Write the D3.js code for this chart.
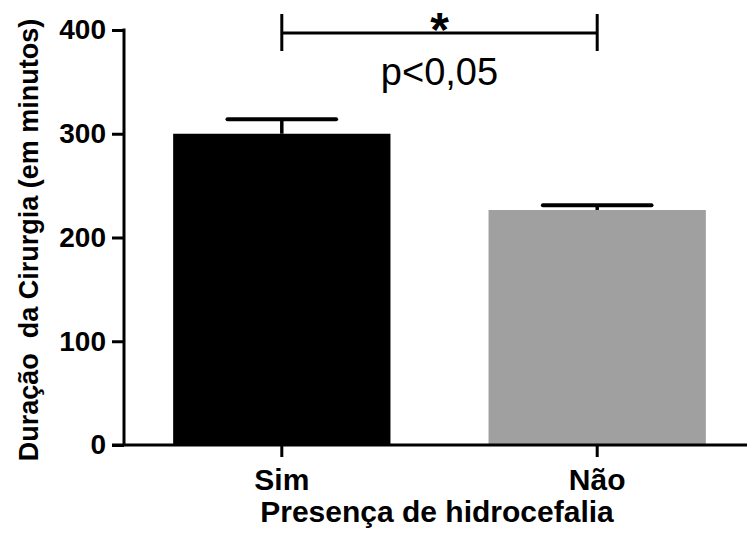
<!DOCTYPE html>
<html>
<head>
<meta charset="utf-8">
<script src="https://cdn.jsdelivr.net/npm/d3@7"></script>
<style>
  body { margin: 0; background: #fff; }
  svg text { font-family: "Liberation Sans", Arial, sans-serif; }
</style>
</head>
<body>
<div id="chart"></div>
<script>
// data
var categories = ["Sim", "Não"];
var means = [300, 226.5];
var errors = [14, 4.5];
var barColors = ["#000000", "#a0a0a0"];
var yTicks = [0, 100, 200, 300, 400];
var sigLabel = "p<0,05";

var w = 747, h = 533;

var svg = d3.select("#chart").append("svg")
   .attr("width", w)
   .attr("height", h);

var y = d3.scaleLinear().domain([0, 400]).range([445, 30]);
var x = d3.scaleBand().domain(categories)
   .range([123, 756])
   .paddingInner(0.311)
   .paddingOuter(0.159);

// bars
svg.selectAll("rect.bar")
   .data(categories)
   .enter().append("rect")
   .attr("class", "bar")
   .attr("x", function(d){ return x(d); })
   .attr("width", x.bandwidth())
   .attr("y", function(d, i){ return y(means[i]); })
   .attr("height", function(d, i){ return y(0) - y(means[i]); })
   .attr("fill", function(d, i){ return barColors[i]; });

// error bars (upper only)
categories.forEach(function(c, i){
    var cx = x(c) + x.bandwidth()/2;
    var capW = x.bandwidth()/2;
    svg.append("line")
      .attr("x1", cx).attr("x2", cx)
      .attr("y1", y(means[i])).attr("y2", y(means[i] + errors[i]))
      .attr("stroke", "#000").attr("stroke-width", 3.5);
    svg.append("line")
      .attr("x1", cx - capW/2).attr("x2", cx + capW/2)
      .attr("y1", y(means[i] + errors[i])).attr("y2", y(means[i] + errors[i]))
      .attr("stroke", "#000").attr("stroke-width", 4)
      .attr("stroke-linecap", "round");
});

// y axis
var yAxis = svg.append("g")
   .attr("transform", "translate(124,0)")
   .call(d3.axisLeft(y).tickValues(yTicks).tickSize(12).tickPadding(6).tickFormat(d3.format("d")));
yAxis.select(".domain").attr("stroke", "#000").attr("stroke-width", 3)
   .attr("d", "M0," + (y(400)-1.5) + "V" + y(0));
yAxis.selectAll(".tick line").attr("stroke", "#000").attr("stroke-width", 3);
yAxis.selectAll(".tick text")
   .attr("font-size", 28).attr("font-weight", "bold").attr("fill", "#000")
   .attr("font-family", "Liberation Sans, Arial, sans-serif");

// x axis
var xAxis = svg.append("g")
   .attr("transform", "translate(0," + y(0) + ")")
   .call(d3.axisBottom(x).tickSize(12).tickPadding(12));
xAxis.select(".domain").attr("stroke", "#000").attr("stroke-width", 3)
   .attr("d", "M112,0H747");
xAxis.selectAll(".tick line").attr("stroke", "#000").attr("stroke-width", 3);
xAxis.selectAll(".tick text")
   .attr("font-size", 30).attr("font-weight", "bold").attr("fill", "#000")
   .attr("font-family", "Liberation Sans, Arial, sans-serif");

// axis titles
svg.append("text")
   .attr("x", 437).attr("y", 522)
   .attr("text-anchor", "middle")
   .attr("font-size", 30).attr("font-weight", "bold")
   .text("Presença de hidrocefalia");

svg.append("text")
   .attr("transform", "translate(38,240) rotate(-90)")
   .attr("text-anchor", "middle")
   .attr("font-size", 27).attr("font-weight", "bold")
   .attr("xml:space", "preserve")
   .style("white-space", "pre")
   .text("Duração  da Cirurgia (em minutos)");

// significance bracket
var sx1 = x(categories[0]) + x.bandwidth()/2;
var sx2 = x(categories[1]) + x.bandwidth()/2;
var sy = 33;
var sig = svg.append("g").attr("stroke", "#000").attr("stroke-width", 3);
sig.append("line").attr("x1", sx1).attr("x2", sx2).attr("y1", sy).attr("y2", sy);
sig.append("line").attr("x1", sx1).attr("x2", sx1).attr("y1", sy - 19).attr("y2", sy + 18);
sig.append("line").attr("x1", sx2).attr("x2", sx2).attr("y1", sy - 19).attr("y2", sy + 18);

svg.append("text")
   .attr("x", (sx1 + sx2)/2).attr("y", 46)
   .attr("text-anchor", "middle")
   .attr("font-size", 48).attr("font-weight", "bold")
   .text("*");

svg.append("text")
   .attr("x", (sx1 + sx2)/2).attr("y", 85)
   .attr("text-anchor", "middle")
   .attr("font-size", 38)
   .text(sigLabel);
</script>
</body>
</html>
